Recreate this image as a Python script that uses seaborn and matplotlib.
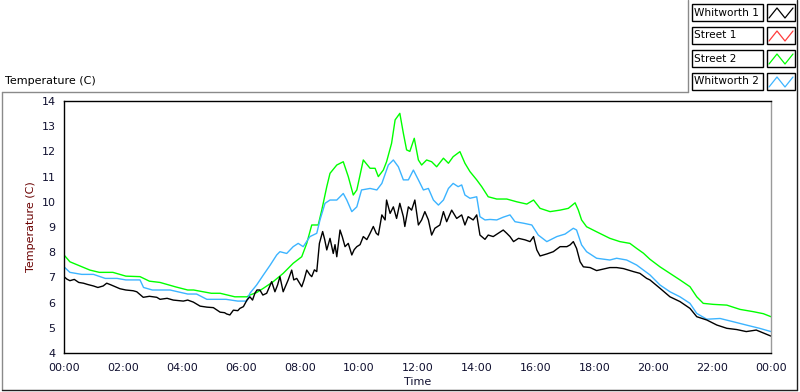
import numpy as np
import pandas as pd
import matplotlib
matplotlib.use("Agg")
import matplotlib.pyplot as plt
import seaborn as sns
from matplotlib.patches import Rectangle
from matplotlib.lines import Line2D

# ---------------- data (hours since midnight, temperature in C) ----------------
series_names = ["Whitworth 1", "Street 1", "Street 2", "Whitworth 2"]
series_colors = {"Whitworth 1": "#000000", "Street 1": "#ff3c3c",
                 "Street 2": "#00ff00", "Whitworth 2": "#3cb4ff"}

whitworth1_t = [0.0, 0.1, 0.2, 0.35, 0.5, 0.66, 0.8, 1.0, 1.15, 1.33, 1.45, 1.6, 1.9, 2.1, 2.35, 2.47,
                2.6, 2.69, 2.9, 3.15, 3.26, 3.5, 3.71, 4.05, 4.2, 4.39, 4.62, 4.85, 5.07, 5.3, 5.45, 5.52,
                5.63, 5.75, 5.9, 5.97, 6.09, 6.21, 6.31, 6.4, 6.48, 6.55, 6.65, 6.75, 6.88, 7.05, 7.16,
                7.25, 7.33, 7.44, 7.61, 7.73, 7.8, 7.9, 8.07, 8.15, 8.24, 8.35, 8.41, 8.5, 8.58, 8.67,
                8.78, 8.85, 8.92, 9.03, 9.14, 9.2, 9.26, 9.37, 9.45, 9.54, 9.65, 9.77, 9.85, 9.94, 10.05,
                10.16, 10.28, 10.39, 10.5, 10.6, 10.67, 10.79, 10.9, 10.95, 11.07, 11.18, 11.29, 11.4,
                11.52, 11.57, 11.69, 11.8, 11.91, 12.03, 12.14, 12.25, 12.37, 12.48, 12.59, 12.76, 12.88,
                12.99, 13.16, 13.33, 13.5, 13.61, 13.72, 13.89, 14.01, 14.12, 14.29, 14.4, 14.57, 14.74,
                14.91, 15.03, 15.14, 15.26, 15.43, 15.65, 15.82, 15.94, 16.05, 16.16, 16.39, 16.61, 16.84,
                17.07, 17.18, 17.29, 17.4, 17.52, 17.63, 17.86, 18.08, 18.31, 18.53, 18.76, 18.99, 19.33,
                19.55, 19.78, 19.89, 20.23, 20.57, 20.91, 21.25, 21.48, 21.82, 22.16, 22.5, 22.84, 23.16,
                23.5, 23.84, 24.0]
whitworth1_v = [7.03, 6.93, 6.87, 6.92, 6.8, 6.77, 6.72, 6.66, 6.6, 6.66, 6.77, 6.7, 6.55, 6.5, 6.47, 6.43,
                6.3, 6.21, 6.25, 6.21, 6.13, 6.17, 6.1, 6.06, 6.1, 6.02, 5.86, 5.82, 5.8, 5.62, 5.6, 5.55,
                5.51, 5.7, 5.68, 5.77, 5.84, 6.1, 6.23, 6.1, 6.37, 6.5, 6.5, 6.3, 6.37, 6.83, 6.43,
                6.7, 7.03, 6.43, 6.9, 7.29, 6.9, 6.96, 6.63, 6.9, 7.29, 7.1, 7.03, 7.3, 7.23, 8.35,
                8.82, 8.5, 8.09, 8.55, 7.95, 8.3, 7.82, 8.88, 8.6, 8.22, 8.35, 7.89, 8.1, 8.22, 8.3,
                8.62, 8.5, 8.75, 9.02, 8.75, 8.68, 9.48, 9.28, 10.07, 9.54, 9.8, 9.34, 9.94,
                9.41, 9.02, 9.8, 9.67, 10.07, 9.08, 9.28, 9.61, 9.28, 8.68, 8.95, 9.08, 9.61,
                9.21, 9.67, 9.34, 9.48, 9.08, 9.41, 9.28, 9.48, 8.68, 8.51, 8.68, 8.62, 8.75,
                8.88, 8.75, 8.62, 8.42, 8.55, 8.49, 8.42, 8.62, 8.09, 7.85, 7.93, 8.02, 8.22,
                8.22, 8.29, 8.42, 8.15, 7.62, 7.42, 7.39, 7.27, 7.33, 7.39, 7.39, 7.35, 7.23,
                7.16, 6.96, 6.9, 6.57, 6.23, 6.04, 5.77, 5.44, 5.31, 5.11, 4.98, 4.93, 4.85,
                4.91, 4.75, 4.67]

street2_t = [0.0, 0.2, 0.55, 0.88, 1.2, 1.66, 2.1, 2.58, 2.9, 3.26, 3.8, 4.2, 4.4, 5.0, 5.3, 5.8, 6.21,
             6.31, 6.54, 6.77, 7.1, 7.44, 7.78, 8.07, 8.24, 8.41, 8.63, 8.75, 8.92, 9.03, 9.26, 9.48,
             9.65, 9.82, 9.94, 10.16, 10.39, 10.56, 10.67, 10.84, 10.95, 11.12, 11.24, 11.4, 11.52,
             11.63, 11.74, 11.89, 12.03, 12.14, 12.31, 12.48, 12.65, 12.88, 13.05, 13.21, 13.44, 13.61,
             13.78, 14.01, 14.18, 14.4, 14.69, 15.03, 15.37, 15.71, 15.94, 16.16, 16.5, 16.84, 17.12,
             17.35, 17.46, 17.57, 17.74, 18.08, 18.53, 18.87, 19.21, 19.44, 19.67, 19.89, 20.23, 20.57,
             20.91, 21.25, 21.48, 21.7, 22.04, 22.5, 22.95, 23.4, 23.74, 24.0]
street2_v = [7.89, 7.62, 7.45, 7.29, 7.2, 7.2, 7.05, 7.03, 6.85, 6.8, 6.62, 6.5, 6.5, 6.37, 6.37, 6.23, 6.23,
             6.3, 6.4, 6.57, 6.83, 7.16, 7.56, 7.82, 8.35, 9.08, 9.08, 9.67, 10.6, 11.13, 11.46, 11.59,
             11.0, 10.27, 10.47, 11.66, 11.33, 11.33, 11.0, 11.26, 11.59, 12.32, 13.25, 13.51, 12.72,
             12.06, 12.0, 12.52, 11.66, 11.46, 11.66, 11.59, 11.39, 11.73, 11.53, 11.79, 11.99, 11.53,
             11.2, 10.87, 10.6, 10.2, 10.11, 10.11, 10.0, 9.91, 10.07, 9.74, 9.61, 9.67, 9.74,
             9.96, 9.67, 9.28, 9.01, 8.81, 8.55, 8.42, 8.35, 8.15, 7.96, 7.72, 7.42, 7.16,
             6.9, 6.63, 6.23, 5.97, 5.93, 5.9, 5.73, 5.64, 5.56, 5.44]

whitworth2_t = [0.0, 0.2, 0.6, 1.0, 1.4, 1.8, 2.1, 2.58, 2.7, 3.0, 3.6, 4.2, 4.5, 4.85, 5.5, 5.9, 6.2,
                6.31, 6.54, 6.77, 7.0, 7.22, 7.33, 7.56, 7.78, 7.95, 8.12, 8.35, 8.58, 8.69, 8.86, 9.03,
                9.26, 9.48, 9.6, 9.77, 9.94, 10.1, 10.39, 10.62, 10.79, 11.01, 11.18, 11.35, 11.52, 11.69,
                11.86, 12.03, 12.2, 12.37, 12.54, 12.71, 12.88, 13.05, 13.21, 13.38, 13.5, 13.61, 13.78,
                14.01, 14.12, 14.29, 14.46, 14.69, 14.91, 15.14, 15.31, 15.6, 15.88, 16.1, 16.39, 16.73,
                17.01, 17.29, 17.4, 17.57, 17.74, 18.08, 18.53, 18.76, 19.1, 19.44, 19.67, 19.89, 20.23,
                20.57, 20.91, 21.25, 21.48, 21.82, 22.27, 22.72, 23.16, 23.61, 24.0]
whitworth2_v = [7.42, 7.2, 7.12, 7.12, 6.96, 6.96, 6.9, 6.9, 6.6, 6.5, 6.5, 6.34, 6.34, 6.13, 6.13, 6.06, 6.06,
                6.37, 6.7, 7.1, 7.49, 7.89, 8.02, 7.95, 8.22, 8.35, 8.22, 8.62, 8.75, 9.28, 9.94, 10.07,
                10.07, 10.33, 10.07, 9.61, 9.8, 10.47, 10.53, 10.47, 10.73, 11.46, 11.66, 11.39, 10.87, 10.87,
                11.26, 10.87, 10.47, 10.53, 10.07, 9.87, 10.07, 10.53, 10.73, 10.6, 10.67, 10.27, 10.14,
                10.2, 9.41, 9.28, 9.3, 9.28, 9.39, 9.48, 9.21, 9.15, 9.08, 8.68, 8.42, 8.62,
                8.72, 8.95, 8.88, 8.29, 8.02, 7.76, 7.69, 7.76, 7.69, 7.49, 7.29, 7.1, 6.7,
                6.43, 6.23, 5.97, 5.57, 5.34, 5.37, 5.24, 5.11, 4.98, 4.85]

x_tick_hours = list(range(0, 25, 2))
x_tick_labels = ["00:00", "02:00", "04:00", "06:00", "08:00", "10:00", "12:00",
                 "14:00", "16:00", "18:00", "20:00", "22:00", "00:00"]
y_ticks = list(range(4, 15))

# ---------------- build table ----------------
df = pd.concat([
    pd.DataFrame({"hours": street2_t, "temp": street2_v, "series": "Street 2"}),
    pd.DataFrame({"hours": whitworth2_t, "temp": whitworth2_v, "series": "Whitworth 2"}),
    pd.DataFrame({"hours": whitworth1_t, "temp": whitworth1_v, "series": "Whitworth 1"}),
], ignore_index=True)

sns.set_style("white")
plt.rcParams["font.family"] = ["DejaVu Sans"]

W, H = 800, 392
fig = plt.figure(figsize=(W / 100, H / 100), dpi=100)
fig.patch.set_facecolor("white")


def F(x, y):
    return (x / W, 1 - y / H)


ax = fig.add_axes([64 / W, 1 - 353 / H, 707 / W, 252 / H])
sns.lineplot(data=df, x="hours", y="temp", hue="series",
             hue_order=["Street 2", "Whitworth 2", "Whitworth 1"],
             palette=series_colors, estimator=None, sort=False,
             legend=False, linewidth=1.0, ax=ax)

ax.set_xlim(0, 24)
ax.set_ylim(4, 14)
ax.set_xticks(x_tick_hours)
ax.set_xticklabels(x_tick_labels)
ax.set_xticks(np.arange(0, 24.01, 1 / 3), minor=True)
ax.set_yticks(y_ticks)
ax.tick_params(axis="both", which="major", direction="out", length=4, width=1,
               color="black", labelsize=8, labelcolor="#101030", pad=2)
ax.tick_params(axis="x", which="minor", direction="out", length=2.5, width=1, color="black")
ax.tick_params(axis="x", which="major", pad=3)
ax.tick_params(axis="y", which="minor", length=0)
ax.set_xlabel("Time", fontsize=8, color="#101030", labelpad=3)
ax.set_ylabel("Temperature (C)", fontsize=8, color="#6a0000", labelpad=4)
for side in ["left", "top", "bottom"]:
    ax.spines[side].set_color("black")
    ax.spines[side].set_linewidth(1)
ax.spines["right"].set_color("#9a9a9a")
ax.spines["right"].set_linewidth(1)
ax.set_facecolor("white")

# ---------------- panel frame ----------------
def fline(x0, y0, x1, y1, color, lw=1.0):
    (a, b), (c, d) = F(x0, y0), F(x1, y1)
    fig.add_artist(Line2D([a, c], [b, d], color=color, lw=lw, transform=fig.transFigure))


fline(2, 92, 688, 92, "#8a8a8a")
fline(2, 92, 2, 390, "#8a8a8a")
fline(688, 0, 688, 92, "#8a8a8a")
fline(2, 390, 797, 390, "#202020")
fline(797, 0, 797, 390, "#202020")

fig.text(*F(5, 81), "Temperature (C)", fontsize=8, color="black", ha="left", va="center")

# ---------------- legend ----------------
row_tops = [4, 27, 50, 73]
for name, top in zip(series_names, row_tops):
    bx, by = F(692, top + 17)
    fig.add_artist(Rectangle((bx, by), 71 / W, 17 / H, transform=fig.transFigure,
                             facecolor="white", edgecolor="black", lw=1))
    sx, sy = F(767, top + 17)
    fig.add_artist(Rectangle((sx, sy), 28 / W, 17 / H, transform=fig.transFigure,
                             facecolor="white", edgecolor="black", lw=1))
    fig.text(*F(694, top + 8.5), name, fontsize=7.6, color="black", ha="left", va="center")
    pts = [F(769, top + 14), F(777, top + 4), F(785, top + 14), F(793, top + 4)]
    fig.add_artist(Line2D([p[0] for p in pts], [p[1] for p in pts],
                          color=series_colors[name], lw=0.9, transform=fig.transFigure))

fig.savefig("out.png", dpi=100, facecolor="white")
